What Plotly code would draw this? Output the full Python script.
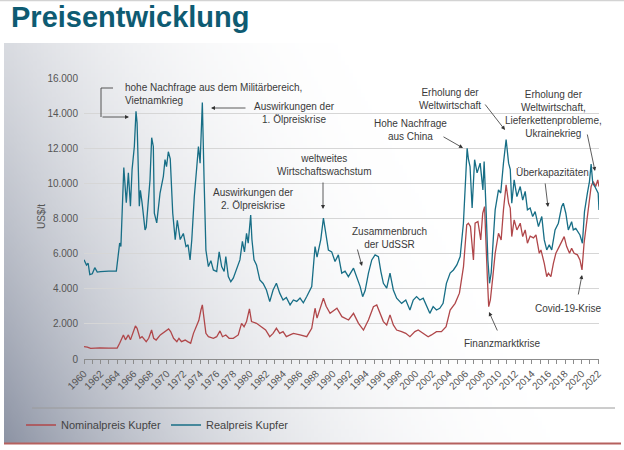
import base64
import struct
import zlib

import plotly.graph_objects as go

# ---------------- data ----------------
real_years = [
    1960.0, 1960.3, 1960.5, 1960.7, 1961.0, 1961.3, 1961.6, 1962.0, 1963.0, 1963.9,
    1964.3, 1964.45, 1964.8, 1965.1, 1965.35, 1965.6, 1965.8, 1966.07, 1966.27, 1966.4,
    1966.67, 1966.8, 1967.0, 1967.36, 1967.5, 1967.96, 1968.16, 1968.36, 1968.48, 1968.77,
    1969.17, 1969.57, 1969.77, 1969.95, 1970.17, 1970.4, 1970.7, 1971.0, 1971.25, 1971.6,
    1971.98, 1972.3, 1972.55, 1972.79, 1973.0, 1973.3, 1973.6, 1973.8, 1974.0, 1974.12,
    1974.27, 1974.48, 1974.7, 1975.0, 1975.3, 1975.6, 1976.0, 1976.3, 1976.6, 1976.9,
    1977.1, 1977.4, 1977.7, 1978.0, 1978.4, 1978.8, 1979.1, 1979.35, 1979.6, 1979.8,
    1980.1, 1980.25, 1980.5, 1980.8, 1981.2, 1981.6, 1982.0, 1982.4, 1982.8, 1983.2,
    1983.6, 1984.0, 1984.4, 1984.85, 1985.25, 1985.65, 1986.05, 1986.45, 1986.86, 1987.26,
    1987.46, 1987.66, 1987.86, 1988.1, 1988.55, 1988.87, 1989.15, 1989.47, 1989.87, 1990.27,
    1990.67, 1991.08, 1991.48, 1991.88, 1992.5, 1992.9, 1993.3, 1993.6, 1993.9, 1994.3,
    1994.7, 1995.1, 1995.5, 1995.8, 1996.1, 1996.5, 1996.9, 1997.3, 1997.7, 1998.3,
    1998.8, 1999.3, 1999.7, 2000.1, 2000.5, 2000.9, 2001.3, 2001.7, 2002.1, 2002.5,
    2002.9, 2003.3, 2003.7, 2004.15, 2004.55, 2004.96, 2005.36, 2005.75, 2006.05, 2006.2,
    2006.35, 2006.55, 2006.8, 2007.1, 2007.4, 2007.77, 2008.1, 2008.25, 2008.5, 2008.7,
    2008.9, 2009.1, 2009.37, 2009.58, 2009.98, 2010.25, 2010.58, 2010.9, 2011.2, 2011.4,
    2011.58, 2011.87, 2012.2, 2012.6, 2012.9, 2013.2, 2013.47, 2013.8, 2014.1, 2014.4,
    2014.8, 2015.2, 2015.5, 2015.8, 2016.1, 2016.4, 2016.8, 2017.2, 2017.6, 2017.8,
    2018.1, 2018.4, 2018.8, 2019.0, 2019.3, 2019.8, 2020.1, 2020.35, 2020.7, 2020.95,
    2021.15, 2021.35, 2021.6, 2021.8, 2022.0, 2022.1,
]
real_price = [
    5650, 5350, 5450, 4800, 4850, 5200, 4950, 4980, 5000, 5000,
    6600, 6400, 10900, 8900, 10600, 8700, 10800, 12100, 14100, 13450,
    8700, 9600, 8900, 7350, 7500, 10200, 12600, 12100, 8300, 7750,
    9450, 10400, 11350, 10950, 11800, 11400, 8300, 6800, 7900, 6800,
    7150, 6400, 6500, 5640, 6800, 9250, 10950, 12100, 11150, 13450,
    14600, 10200, 6200, 5260, 5600, 5070, 4980, 6100, 5260, 4980,
    5830, 4690, 4400, 4600, 5070, 5640, 6700, 6100, 7150, 6600,
    8200, 6800, 5650, 5360, 4500, 4300, 3930, 3270, 3930, 4310,
    3750, 3360, 3500, 3080, 3360, 3280, 3470, 3200, 3560, 3930,
    4120, 5260, 6400, 5800, 6800, 8020, 7160, 6200, 6100, 5550,
    5930, 4890, 5000, 4690, 5170, 4600, 4120, 3550, 3900, 4890,
    5640, 5930, 5830, 4980, 4310, 4030, 4890, 3930, 3460, 3170,
    3360, 2790, 3360, 3550, 3360, 3460, 2980, 2600, 2980, 2790,
    2890, 3170, 4310, 4890, 5070, 5360, 5830, 7730, 10580, 12000,
    11400, 10960, 8600, 11350, 10600, 11150, 9630, 11250, 8300, 5640,
    4310, 4900, 6970, 8490, 9630, 9450, 11150, 12500, 11150, 10800,
    8870, 10200, 9250, 9820, 9050, 9540, 8490, 8600, 8110, 8390,
    7540, 8110, 6780, 6210, 6500, 6210, 7350, 7730, 8680, 8870,
    8300, 7350, 7820, 7350, 7440, 7060, 6590, 8390, 9440, 10100,
    11100, 10000, 9820, 9630, 9440, 8490,
]

nominal_years = [
    1960.0, 1960.4, 1960.8, 1961.3, 1961.9, 1963.0, 1964.0, 1964.3, 1964.75, 1965.0,
    1965.35, 1965.6, 1965.95, 1966.2, 1966.4, 1966.75, 1967.0, 1967.5, 1967.8, 1968.15,
    1968.4, 1968.7, 1969.2, 1969.8, 1970.2, 1970.45, 1970.8, 1971.2, 1971.45, 1971.75,
    1972.2, 1972.5, 1972.86, 1973.2, 1973.6, 1973.85, 1974.1, 1974.27, 1974.47, 1974.7,
    1975.0, 1975.6, 1976.0, 1976.4, 1976.7, 1977.1, 1977.5, 1978.0, 1978.6, 1979.0,
    1979.3, 1979.6, 1979.95, 1980.2, 1980.8, 1981.6, 1981.9, 1982.4, 1982.8, 1983.2,
    1983.6, 1984.0, 1984.4, 1984.85, 1985.25, 1986.05, 1986.86, 1987.46, 1987.86, 1988.1,
    1988.87, 1989.2, 1989.67, 1990.5, 1991.1, 1991.9, 1992.5, 1993.1, 1993.7, 1994.3,
    1994.9, 1995.3, 1995.7, 1996.1, 1996.5, 1996.9, 1997.3, 1997.7, 1998.3, 1998.8,
    1999.3, 1999.9, 2000.3, 2000.9, 2001.5, 2001.9, 2002.5, 2003.1, 2003.66, 2004.15,
    2004.75, 2005.27, 2005.76, 2006.15, 2006.35, 2006.6, 2006.96, 2007.16, 2007.5, 2007.84,
    2008.08, 2008.3, 2008.5, 2008.65, 2008.8, 2009.0, 2009.3, 2009.58, 2009.98, 2010.3,
    2010.58, 2010.9, 2011.2, 2011.4, 2011.58, 2011.87, 2012.2, 2012.6, 2012.9, 2013.2,
    2013.47, 2013.8, 2014.2, 2014.5, 2014.9, 2015.1, 2015.5, 2015.8, 2016.0, 2016.3,
    2016.6, 2016.9, 2017.3, 2017.7, 2017.9, 2018.2, 2018.55, 2018.8, 2019.1, 2019.5,
    2019.8, 2020.05, 2020.3, 2020.6, 2020.9, 2021.15, 2021.4, 2021.7, 2021.95, 2022.1,
]
nominal_price = [
    700, 680, 600, 620, 630, 620, 620, 900, 1370, 1090,
    1370, 1090, 1560, 1880, 1750, 1180, 1270, 990, 1180, 1650,
    1180, 1080, 1370, 1560, 1710, 1560, 1180, 990, 1180, 990,
    1080, 990, 900, 1460, 1940, 2200, 2790, 3080, 2320, 1460,
    1270, 1180, 1270, 1600, 1270, 1370, 1180, 1180, 1370, 2030,
    1840, 2130, 2850, 2130, 2030, 1750, 1650, 1270, 1460, 1750,
    1460, 1560, 1270, 1370, 1460, 1370, 1270, 1750, 2890, 2330,
    3460, 3000, 2600, 2890, 2410, 2220, 2600, 2030, 1650, 2220,
    2980, 3080, 2600, 2130, 1940, 2510, 1940, 1650, 1560, 1460,
    1270, 1560, 1650, 1460, 1270, 1370, 1560, 1560, 1840, 2790,
    3170, 3750, 5260, 7640, 7730, 7540, 5640, 7730, 7830, 6780,
    8300, 8680, 6780, 4500, 2980, 3360, 4690, 6020, 7160, 6780,
    8490, 9920, 8870, 8590, 6970, 7920, 7350, 7730, 6970, 7350,
    6590, 7000, 6900, 7070, 6020, 6210, 5450, 4690, 4880, 4690,
    5450, 6020, 6400, 6780, 6970, 6400, 6020, 6300, 6020, 5930,
    5640, 5070, 6590, 7730, 8870, 9820, 10100, 9820, 10200, 9820,
]

y_ticks = [0, 2000, 4000, 6000, 8000, 10000, 12000, 14000, 16000]
series_names = ["Nominalpreis Kupfer", "Realpreis Kupfer"]

# ---------------- styling / layout helpers ----------------
W, H = 624, 450
L, R, T, B = 84, 25, 78, 91
PW, PH = W - L - R, H - T - B

def P(xpx):
    return (xpx - L) / PW

def Q(ypx):
    return (H - B - ypx) / PH

RED = "#b0474a"
TEAL = "#176e86"
FONT = "Liberation Sans, Arial, sans-serif"
DARK = (138, 145, 162)


def gradient_png(w, h):
    rows = []
    for j in range(h):
        ypx = 43 + (j + 0.5) / h * 400
        row = bytearray([0])
        for i in range(w):
            xpx = 4 + (i + 0.5) / w * 617
            u = xpx / 620 + (443 - ypx) / 400 * 0.35
            t = max(0.0, min(1.0, 1 - u)) ** 2.5
            for c in DARK:
                row.append(int(round(255 - t * (255 - c))))
        rows.append(bytes(row))
    raw = b"".join(rows)

    def chunk(tag, data):
        return (struct.pack(">I", len(data)) + tag + data
                + struct.pack(">I", zlib.crc32(tag + data) & 0xFFFFFFFF))

    png = (b"\x89PNG\r\n\x1a\n"
           + chunk(b"IHDR", struct.pack(">IIBBBBB", w, h, 8, 2, 0, 0, 0))
           + chunk(b"IDAT", zlib.compress(raw, 9))
           + chunk(b"IEND", b""))
    return "data:image/png;base64," + base64.b64encode(png).decode()


fig = go.Figure()
fig.add_trace(go.Scatter(x=nominal_years, y=nominal_price, mode="lines",
                         name=series_names[0], line=dict(color=RED, width=1.3),
                         hoverinfo="skip"))
fig.add_trace(go.Scatter(x=real_years, y=real_price, mode="lines",
                         name=series_names[1], line=dict(color=TEAL, width=1.3),
                         hoverinfo="skip"))

annotations = []
# title
annotations.append(dict(text="<b>Preisentwicklung</b>", xref="paper", yref="paper",
                        x=P(9), y=Q(17), xanchor="left", yanchor="middle",
                        showarrow=False, font=dict(family=FONT, size=29, color="#0e5b72")))
# y axis title
annotations.append(dict(text="US$/t", xref="paper", yref="paper", x=P(41), y=Q(217),
                        textangle=-90, showarrow=False, xanchor="center", yanchor="middle",
                        font=dict(family=FONT, size=10, color="#555555")))

txt_font = dict(family=FONT, size=10, color="#3a3a3a")
labels = [
    ("hohe Nachfrage aus dem Militärbereich,<br>Vietnamkrieg", 123, 94, "left"),
    ("Auswirkungen der<br>1. Ölpreiskrise", 294, 113, "center"),
    ("weltweites<br>Wirtschaftswachstum", 324, 164.5, "center"),
    ("Auswirkungen der<br>2. Ölpreiskrise", 253, 199, "center"),
    ("Zusammenbruch<br>der UdSSR", 389, 237.5, "center"),
    ("Hohe Nachfrage<br>aus China", 410, 130, "center"),
    ("Erholung der<br>Weltwirtschaft", 450, 99, "center"),
    ("Erholung der<br>Weltwirtschaft,<br>Lieferkettenprobleme,<br>Ukrainekrieg", 553, 114, "center"),
    ("Überkapazitäten", 552, 172, "center"),
    ("Covid-19-Krise", 568, 308, "center"),
    ("Finanzmarktkrise", 502, 343, "center"),
]
for text, xp, yp, al in labels:
    annotations.append(dict(text=text, xref="paper", yref="paper", x=P(xp), y=Q(yp),
                            xanchor="left" if al == "left" else "center", yanchor="middle",
                            align=al, showarrow=False, font=txt_font))

arrows = [  # (tail_x, tail_y, head_x, head_y) in pixels
    (101, 117, 129, 117),
    (247, 108, 211, 108),
    (323, 181, 323, 209),
    (357, 248, 362, 266),
    (442, 136, 463, 148),
    (484, 103, 505, 130),
    (587, 133, 595, 171),
    (545, 182, 548, 207),
    (578, 296, 582, 275),
    (498, 332, 489, 312),
]
for tx, ty, hx, hy in arrows:
    annotations.append(dict(text="", xref="paper", yref="paper", x=P(hx), y=Q(hy),
                            ax=tx - hx, ay=ty - hy, showarrow=True, arrowhead=2,
                            arrowsize=1, arrowwidth=0.8, arrowcolor="#333333", standoff=0))

shapes = [
    # bracket for the Vietnam annotation
    dict(type="path", xref="paper", yref="paper",
         path=f"M {P(113)},{Q(88)} L {P(101)},{Q(88)} L {P(101)},{Q(117)}",
         line=dict(color="#444444", width=0.9)),
    # legend separator
    dict(type="line", xref="paper", yref="paper", x0=P(32), x1=P(615), y0=Q(408), y1=Q(408),
         line=dict(color="#9a9a9a", width=1)),
    # bottom red border
    dict(type="line", xref="paper", yref="paper", x0=P(4), x1=P(621), y0=Q(443.5), y1=Q(443.5),
         line=dict(color="#b5615e", width=2)),
    # thin top rule
    dict(type="line", xref="paper", yref="paper", x0=P(0), x1=P(624), y0=Q(0.5), y1=Q(0.5),
         line=dict(color="#d3d3d3", width=1.5)),
]

fig.update_layout(
    width=W, height=H,
    margin=dict(l=L, r=R, t=T, b=B, autoexpand=False),
    paper_bgcolor="white",
    plot_bgcolor="rgba(0,0,0,0)",
    separators=",.",
    font=dict(family=FONT, size=10, color="#555555"),
    showlegend=True,
    legend=dict(orientation="h", x=P(21), y=Q(425), xanchor="left", yanchor="middle",
                bgcolor="rgba(0,0,0,0)", font=dict(family=FONT, size=11, color="#444444"),
                itemwidth=30, tracegroupgap=0),
    xaxis=dict(range=[1960, 2022.1], tick0=1960, dtick=2, tickangle=-45,
               ticks="outside", ticklen=4, tickcolor="#8c8c8c", showgrid=False,
               showline=True, linecolor="#8c8c8c", linewidth=1, zeroline=False,
               tickfont=dict(family=FONT, size=10, color="#555555"),
               minor=dict(dtick=1, ticks="outside", ticklen=4, tickcolor="#8c8c8c")),
    yaxis=dict(range=[0, 16000], tickvals=y_ticks, tickformat=",d",
               ticks="outside", ticklen=3, tickcolor="rgba(0,0,0,0)",
               showgrid=True, gridcolor="#d6d6d6", gridwidth=1, zeroline=False,
               showline=False, tickfont=dict(family=FONT, size=10, color="#555555")),
    images=[dict(source=gradient_png(160, 100), xref="paper", yref="paper",
                 x=P(4), y=Q(43), sizex=617 / PW, sizey=400 / PH, sizing="stretch",
                 xanchor="left", yanchor="top", layer="below")],
    annotations=annotations,
    shapes=shapes,
)

fig.write_html("out.html", config={"displayModeBar": False},
               post_script="document.body.style.margin='0';document.body.style.overflow='hidden';")
